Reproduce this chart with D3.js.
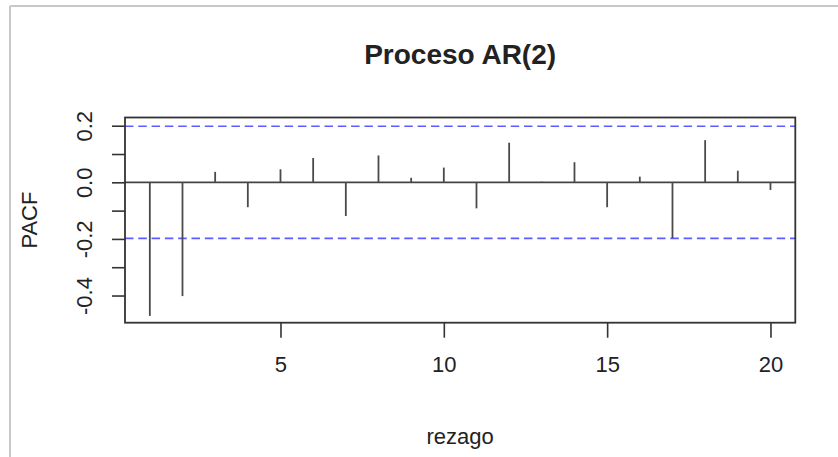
<!DOCTYPE html>
<html>
<head>
<meta charset="utf-8">
<script src="https://cdn.jsdelivr.net/npm/d3@7"></script>
<style>
  html, body { margin: 0; padding: 0; background: #fff; }
  svg { display: block; }
  text { font-family: "Liberation Sans", Arial, sans-serif; fill: #222; }
</style>
</head>
<body>
<svg id="chart" width="838" height="457"></svg>
<script>
// Partial autocorrelations of the simulated AR(2) series, lags 1..20
const lags = d3.range(1, 21);
const pacf = [-0.472, -0.402, 0.037, -0.088, 0.046, 0.086, -0.119, 0.095, 0.016, 0.052,
              -0.092, 0.140, 0.002, 0.071, -0.088, 0.020, -0.197, 0.149, 0.041, -0.027];
// 95% significance bound
const clim = 0.198;
const xTicks = [5, 10, 15, 20];
const yTicks = [-0.4, -0.3, -0.2, -0.1, 0.0, 0.1, 0.2];
const yLabelled = [-0.4, -0.2, 0.0, 0.2];
const title = "Proceso AR(2)";
const xTitle = "rezago";
const yTitle = "PACF";

const svg = d3.select("#chart");
const box = { left: 125, right: 795.3, top: 117.5, bottom: 322.7 };

const x = d3.scaleLinear().domain([0.24, 20.76]).range([box.left, box.right]);
const y = d3.scaleLinear().domain([-0.496, 0.229]).range([box.bottom, box.top]);

// Outer frame edges of the figure
svg.append("line").attr("x1", 10).attr("x2", 10).attr("y1", 6).attr("y2", 457)
  .attr("stroke", "#c8c8c8").attr("stroke-width", 2);
svg.append("line").attr("x1", 10).attr("x2", 838).attr("y1", 6).attr("y2", 6)
  .attr("stroke", "#c8c8c8").attr("stroke-width", 2);

// Significance bounds
svg.selectAll("line.bound").data([clim, -clim]).join("line")
  .attr("class", "bound")
  .attr("x1", box.left).attr("x2", box.right)
  .attr("y1", d => y(d)).attr("y2", d => y(d))
  .attr("stroke", "#5c5cff").attr("stroke-width", 1.7)
  .attr("stroke-dasharray", "8.5,4.8");

// Zero line
svg.append("line")
  .attr("x1", box.left).attr("x2", box.right)
  .attr("y1", y(0)).attr("y2", y(0))
  .attr("stroke", "#444").attr("stroke-width", 1.8);

// PACF spikes
svg.selectAll("line.spike").data(lags).join("line")
  .attr("class", "spike")
  .attr("x1", d => x(d)).attr("x2", d => x(d))
  .attr("y1", y(0)).attr("y2", (d, i) => y(pacf[i]))
  .attr("stroke", "#4a4a4a").attr("stroke-width", 1.8);

// Plot box
svg.append("rect")
  .attr("x", box.left).attr("y", box.top)
  .attr("width", box.right - box.left).attr("height", box.bottom - box.top)
  .attr("fill", "none").attr("stroke", "#333").attr("stroke-width", 1.8);

// X axis
const xAxis = d3.axisBottom(x).tickValues(xTicks).tickSize(15).tickSizeOuter(0)
  .tickFormat(d3.format("d"));
const gx = svg.append("g").attr("transform", `translate(0,${box.bottom})`).call(xAxis);
gx.select(".domain").remove();
gx.selectAll(".tick line").attr("stroke", "#333").attr("stroke-width", 1.6);
gx.selectAll(".tick text")
  .attr("y", 0).attr("dy", null)
  .attr("transform", "translate(0,49)")
  .style("font-size", "22px").style("fill", "#222")
  .attr("font-family", null);

// Y axis: ticks every 0.1, labels on every other tick, rotated
const yAxis = d3.axisLeft(y).tickValues(yTicks).tickSize(13).tickSizeOuter(0)
  .tickFormat(d => yLabelled.some(v => Math.abs(v - d) < 1e-9) ? d3.format(".1f")(d).replace("−", "-") : "");
const gy = svg.append("g").attr("transform", `translate(${box.left},0)`).call(yAxis);
gy.select(".domain").remove();
gy.selectAll(".tick line").attr("stroke", "#333").attr("stroke-width", 1.6);
gy.selectAll(".tick text")
  .attr("x", null).attr("dy", null)
  .attr("transform", "translate(-33,0) rotate(-90)")
  .attr("text-anchor", "middle")
  .style("font-size", "22px").style("fill", "#222")
  .attr("font-family", null);

// Titles
svg.append("text")
  .attr("x", (box.left + box.right) / 2).attr("y", 64)
  .attr("text-anchor", "middle")
  .style("font-size", "28px").style("font-weight", "bold")
  .text(title);

svg.append("text")
  .attr("x", (box.left + box.right) / 2).attr("y", 444)
  .attr("text-anchor", "middle")
  .style("font-size", "22px")
  .text(xTitle);

svg.append("text")
  .attr("transform", `translate(37,${(box.top + box.bottom) / 2}) rotate(-90)`)
  .attr("text-anchor", "middle")
  .style("font-size", "22px")
  .text(yTitle);
</script>
</body>
</html>
